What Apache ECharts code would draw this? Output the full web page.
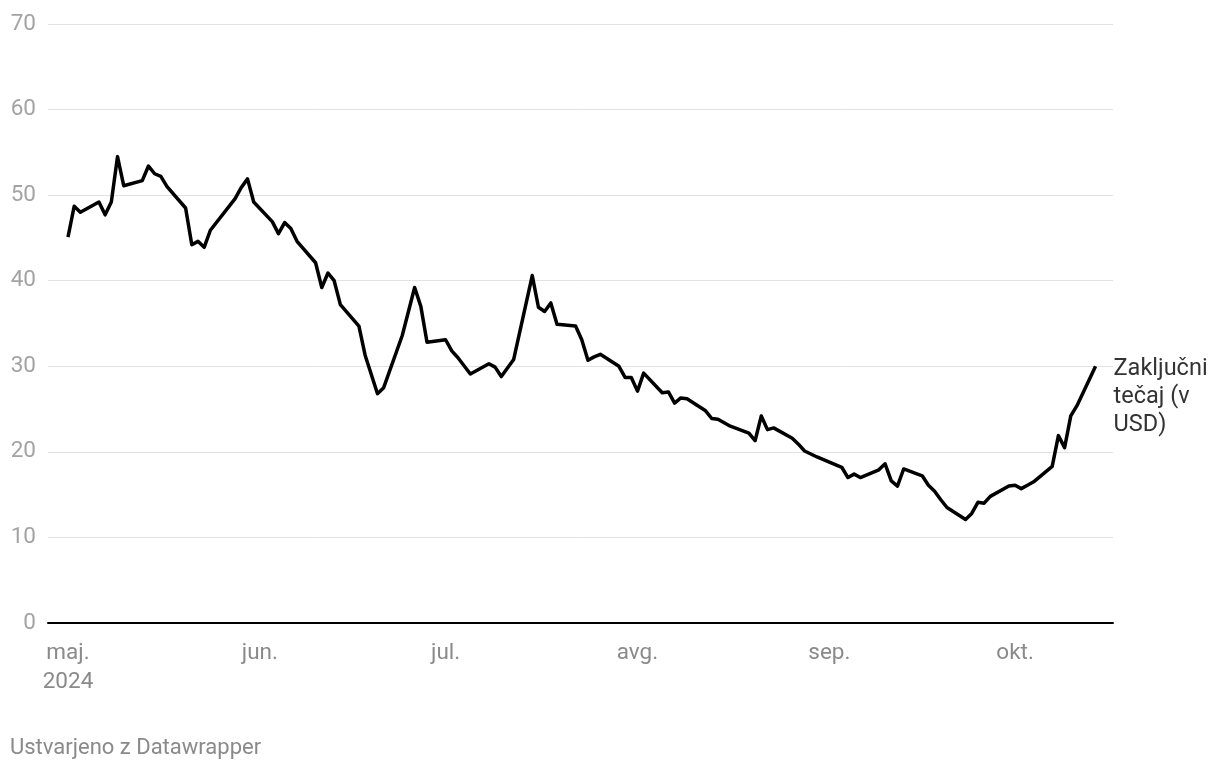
<!DOCTYPE html>
<html>
<head>
<meta charset="utf-8">
<script src="https://cdn.jsdelivr.net/npm/echarts@6/dist/echarts.min.js"></script>
<style>
html,body{margin:0;padding:0;background:#fff;}
#chart{width:1220px;height:770px;}
</style>
</head>
<body>
<div id="chart"></div>
<script>
// ---- Data ----
const dates = [
  '2024-05-01','2024-05-02','2024-05-03','2024-05-06','2024-05-07','2024-05-08','2024-05-09','2024-05-10',
  '2024-05-13','2024-05-14','2024-05-15','2024-05-16','2024-05-17','2024-05-20','2024-05-21','2024-05-22',
  '2024-05-23','2024-05-24','2024-05-28','2024-05-29','2024-05-30','2024-05-31',
  '2024-06-03','2024-06-04','2024-06-05','2024-06-06','2024-06-07','2024-06-10','2024-06-11','2024-06-12',
  '2024-06-13','2024-06-14','2024-06-17','2024-06-18','2024-06-20','2024-06-21','2024-06-24','2024-06-25',
  '2024-06-26','2024-06-27','2024-06-28',
  '2024-07-01','2024-07-02','2024-07-03','2024-07-05','2024-07-08','2024-07-09','2024-07-10','2024-07-11',
  '2024-07-12','2024-07-15','2024-07-16','2024-07-17','2024-07-18','2024-07-19','2024-07-22','2024-07-23',
  '2024-07-24','2024-07-25','2024-07-26','2024-07-29','2024-07-30','2024-07-31',
  '2024-08-01','2024-08-02','2024-08-05','2024-08-06','2024-08-07','2024-08-08','2024-08-09','2024-08-12',
  '2024-08-13','2024-08-14','2024-08-15','2024-08-16','2024-08-19','2024-08-20','2024-08-21','2024-08-22',
  '2024-08-23','2024-08-26','2024-08-27','2024-08-28','2024-08-29','2024-08-30',
  '2024-09-03','2024-09-04','2024-09-05','2024-09-06','2024-09-09','2024-09-10','2024-09-11','2024-09-12',
  '2024-09-13','2024-09-16','2024-09-17','2024-09-18','2024-09-19','2024-09-20','2024-09-23','2024-09-24',
  '2024-09-25','2024-09-26','2024-09-27','2024-09-30',
  '2024-10-01','2024-10-02','2024-10-03','2024-10-04','2024-10-07','2024-10-08','2024-10-09','2024-10-10',
  '2024-10-11','2024-10-14'
];
const closePrices = [
  45.1, 48.7, 48.0, 49.2, 47.7, 49.2, 54.5, 51.1,
  51.7, 53.4, 52.5, 52.2, 51.0, 48.5, 44.2, 44.6,
  43.9, 45.9, 49.6, 50.9, 51.9, 49.2,
  46.9, 45.5, 46.8, 46.1, 44.6, 42.1, 39.2, 40.9,
  40.0, 37.2, 34.7, 31.3, 26.8, 27.5, 33.6, 36.4,
  39.2, 37.0, 32.8,
  33.1, 31.8, 31.0, 29.1, 30.3, 29.9, 28.8, 29.8,
  30.8, 40.6, 36.9, 36.4, 37.4, 34.9, 34.7, 33.1,
  30.7, 31.1, 31.4, 30.0, 28.7, 28.7,
  27.1, 29.2, 26.9, 27.0, 25.7, 26.3, 26.2, 24.8,
  23.9, 23.8, 23.4, 23.0, 22.2, 21.3, 24.2, 22.6,
  22.8, 21.6, 20.9, 20.1, 19.75, 19.4,
  18.2, 17.0, 17.4, 17.0, 17.9, 18.6, 16.6, 16.0,
  18.0, 17.2, 16.1, 15.4, 14.4, 13.5, 12.1, 12.8,
  14.1, 14.0, 14.8, 16.0,
  16.1, 15.7, 16.1, 16.5, 18.3, 21.9, 20.5, 24.2,
  25.4, 30.0
];
const seriesName = 'Zaključni tečaj (v USD)';
const endLabelText = 'Zaključni\ntečaj (v\nUSD)';
const monthLabels = ['maj.\n2024', 'jun.', 'jul.', 'avg.', 'sep.', 'okt.'];
const yTicks = [0, 10, 20, 30, 40, 50, 60, 70];
const footerText = 'Ustvarjeno z Datawrapper';

// ---- Build ----
function toLocal(s) {
  const p = s.split('-').map(Number);
  return new Date(p[0], p[1] - 1, p[2]).getTime();
}
const seriesData = dates.map((d, i) => [toLocal(d), closePrices[i]]);
const DAY = 86400000;
const xMin = new Date(2024, 4, 1).getTime() - 3.23 * DAY;
const xMax = new Date(2024, 4, 1).getTime() + 168.82 * DAY;

const FONT = 'Roboto';
const chart = echarts.init(document.getElementById('chart'), null, { renderer: 'canvas' });
chart.setOption({
  animation: false,
  backgroundColor: '#fff',
  textStyle: { fontFamily: FONT },
  title: {
    text: footerText,
    left: 10,
    top: 737,
    padding: 0,
    textStyle: { fontFamily: FONT, fontSize: 22, fontWeight: 'normal', color: '#8a8a8a' }
  },
  grid: { left: 48, right: 107, top: 24, bottom: 147, containLabel: false },
  xAxis: {
    type: 'time',
    min: xMin,
    max: xMax,
    splitNumber: 6,
    minInterval: 28 * DAY,
    axisLine: { show: true, lineStyle: { color: '#000', width: 2 } },
    axisTick: { show: false },
    splitLine: { show: false },
    axisLabel: {
      show: true,
      margin: 16,
      fontFamily: FONT,
      fontSize: 22.5,
      lineHeight: 29,
      color: '#8a8a8a',
      align: 'center',
      hideOverlap: false,
      formatter: function (val) {
        const d = new Date(val);
        if (d.getDate() !== 1 || d.getHours() !== 0) return '';
        const idx = (d.getFullYear() - 2024) * 12 + d.getMonth() - 4;
        return monthLabels[idx] || '';
      }
    }
  },
  yAxis: {
    type: 'value',
    min: yTicks[0],
    max: yTicks[yTicks.length - 1],
    interval: 10,
    axisLine: { show: false },
    axisTick: { show: false },
    splitLine: { show: true, lineStyle: { color: '#e2e2e2', width: 1 } },
    axisLabel: {
      margin: 12,
      align: 'right',
      fontFamily: FONT,
      fontSize: 22.5,
      color: '#a3a3a3',
      padding: [3, 0, 0, 0]
    }
  },
  series: [{
    name: seriesName,
    type: 'line',
    data: seriesData,
    showSymbol: false,
    symbol: 'none',
    smooth: false,
    lineStyle: { color: '#000', width: 3.5, join: 'round' },
    itemStyle: { color: '#000' },
    endLabel: {
      show: true,
      formatter: endLabelText,
      fontFamily: FONT,
      fontSize: 23.5,
      lineHeight: 28,
      color: '#333',
      distance: 18,
      align: 'left',
      verticalAlign: 'top',
      offset: [0, -11]
    },
    z: 5
  }]
});
</script>
</body>
</html>
